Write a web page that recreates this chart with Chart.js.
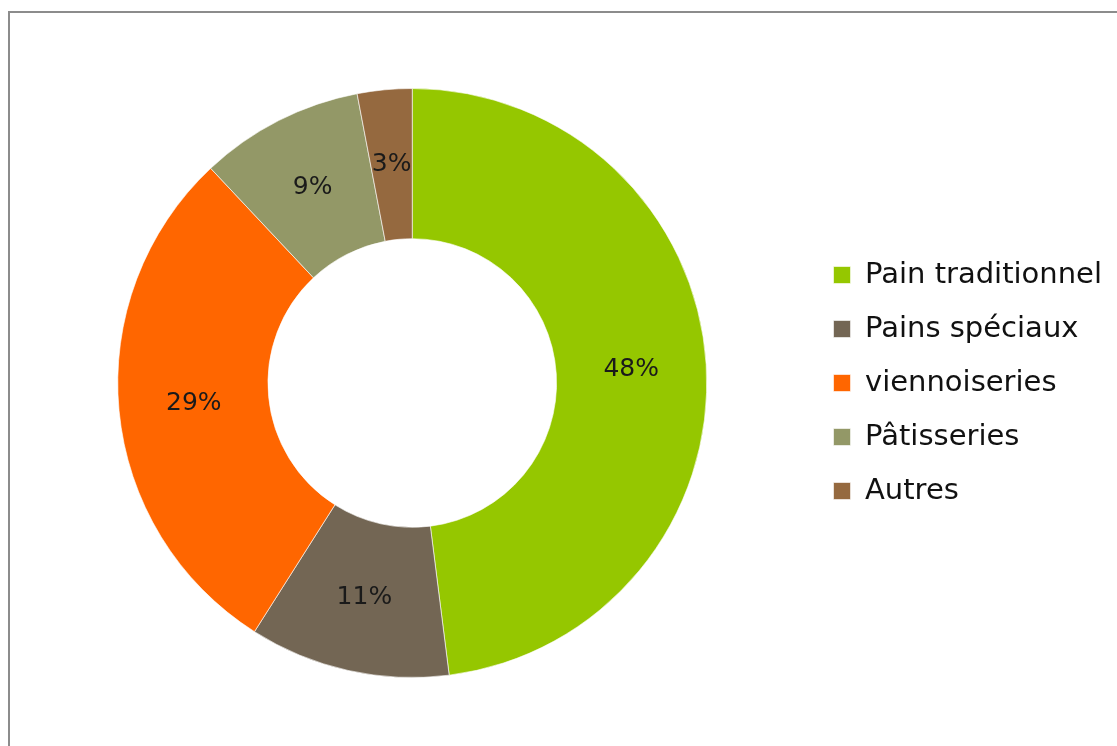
<!DOCTYPE html>
<html>
<head>
<meta charset="utf-8">
<script src="https://cdn.jsdelivr.net/npm/chart.js@4.4.1/dist/chart.umd.min.js"></script>
<style>
    body { margin: 0; background: #fff; }
    #frame {
        position: absolute; left: 8px; top: 11px;
        width: 1200px; height: 800px;
        border: 2px solid #8c8c8c;
    }
    #wrap { position: absolute; left: 0; top: 0; width: 1117px; height: 746px; }
</style>
</head>
<body>
<div id="frame"></div>
<div id="wrap"><canvas id="chart"></canvas></div>
<script>
// Chart data
const categories = ['Pain traditionnel', 'Pains spéciaux', 'viennoiseries', 'Pâtisseries', 'Autres'];
const shares = [48, 11, 29, 9, 3];
const sliceColors = ['#95c700', '#736654', '#ff6600', '#939867', '#95693f'];

const FONT = "'DejaVu Sans', sans-serif";

// Draw percentage labels in the middle of each slice
const sliceLabels = {
    id: 'sliceLabels',
    afterDatasetsDraw(chart) {
        const ctx = chart.ctx;
        const meta = chart.getDatasetMeta(0);
        ctx.save();
        ctx.font = '25px ' + FONT;
        ctx.fillStyle = '#1a1a1a';
        ctx.textAlign = 'center';
        ctx.textBaseline = 'middle';
        meta.data.forEach((arc, i) => {
            const pos = arc.tooltipPosition();
            ctx.fillText(shares[i] + '%', pos.x, pos.y);
        });
        ctx.restore();
    }
};

new Chart(document.getElementById('chart'), {
    type: 'doughnut',
    data: {
        labels: categories,
        datasets: [{
            data: shares,
            backgroundColor: sliceColors,
            borderColor: 'rgba(255,255,255,0.6)',
            borderWidth: 1
        }]
    },
    options: {
        responsive: true,
        maintainAspectRatio: false,
        animation: false,
        cutout: '49%',
        layout: { padding: { top: 88, bottom: 68, left: 16, right: 5 } },
        plugins: {
            tooltip: { enabled: false },
            legend: {
                position: 'right',
                labels: {
                    color: '#111',
                    font: { family: FONT, size: 29 },
                    boxWidth: 17,
                    boxHeight: 17,
                    padding: 25
                }
            }
        }
    },
    plugins: [sliceLabels]
});
</script>
</body>
</html>
